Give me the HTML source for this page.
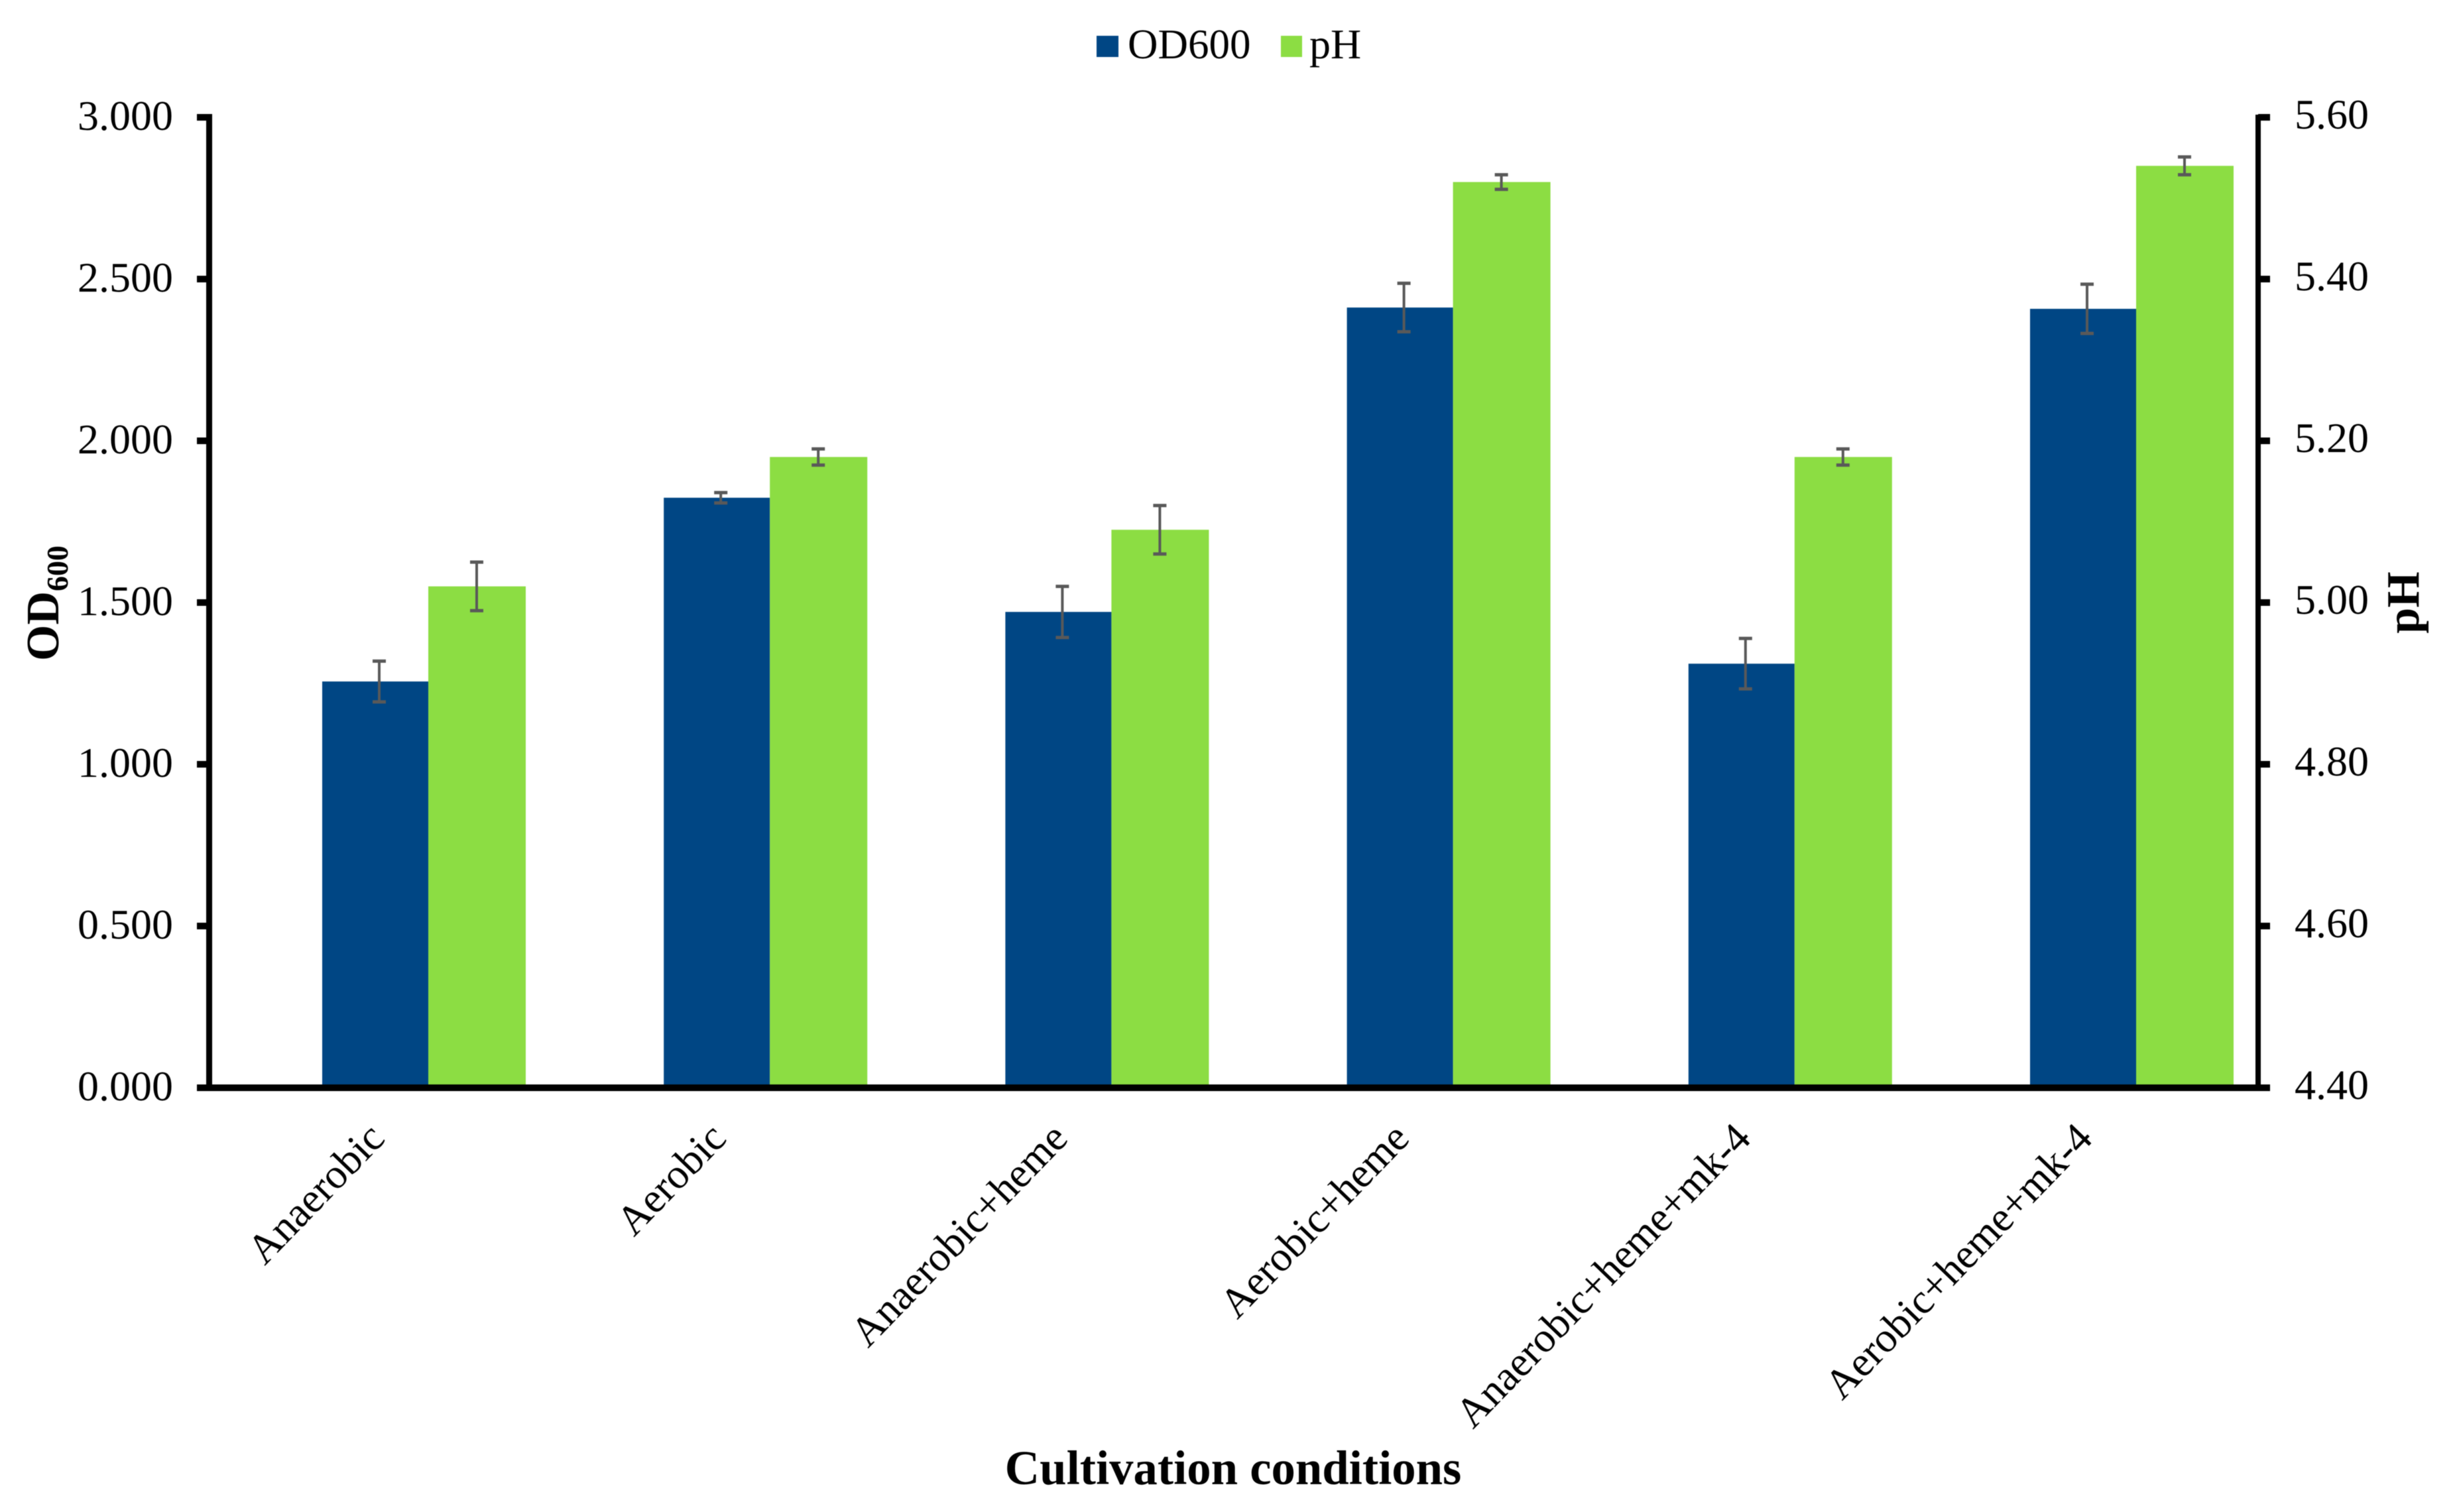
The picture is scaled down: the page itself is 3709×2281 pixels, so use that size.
<!DOCTYPE html>
<html lang="en">
<head>
<meta charset="utf-8">
<title>OD600 and pH across cultivation conditions</title>
<style>
  html, body { margin: 0; padding: 0; background: #ffffff; }
  body { width: 3709px; height: 2281px; overflow: hidden; }
  #chart { display: block; filter: blur(0.6px); }
  text { font-family: "Liberation Serif", "Times New Roman", serif; fill: #000000; }
</style>
</head>
<body>
<svg id="chart" xmlns="http://www.w3.org/2000/svg" width="3709" height="2281" viewBox="0 0 3709 2281">
  <rect x="0" y="0" width="3709" height="2281" fill="#ffffff"/>
  <g id="bars"></g>
  <g id="errors"></g>
  <g id="axes"></g>

  <g>
    <g>
      <rect x="1654" y="54" width="33" height="32" fill="#004684"/>
      <text x="1701" y="88" font-size="63">OD600</text>
    </g>
    <g>
      <rect x="1932" y="54" width="32" height="32" fill="#8cdd43"/>
      <text x="1975" y="88" font-size="64">pH</text>
    </g>
  </g>

  <text x="1860" y="2239" font-size="72.7" font-weight="bold" text-anchor="middle">Cultivation conditions</text>
  <text transform="translate(88,997) rotate(-90)" font-size="70" font-weight="bold">OD<tspan font-size="46" dy="14">600</tspan></text>
  <text transform="translate(3648,909) rotate(-90)" font-size="70" font-weight="bold" text-anchor="middle">pH</text>
</svg>

<script>
const categories = ["Anaerobic", "Aerobic", "Anaerobic+heme", "Aerobic+heme", "Anaerobic+heme+mk-4", "Aerobic+heme+mk-4"];
const od600Values = [1.256, 1.824, 1.471, 2.412, 1.311, 2.408];
const od600Errors = [0.063, 0.016, 0.079, 0.075, 0.078, 0.076];
const phValues = [5.02, 5.18, 5.09, 5.52, 5.18, 5.54];
const phErrors = [0.03, 0.01, 0.03, 0.009, 0.01, 0.011];
const leftTicks = ["0.000", "0.500", "1.000", "1.500", "2.000", "2.500", "3.000"];
const rightTicks = ["4.40", "4.60", "4.80", "5.00", "5.20", "5.40", "5.60"];

const NS = "http://www.w3.org/2000/svg";
const plotBottom = 1641;
const plotTop = 177;
const leftAxisX = 315.5;
const rightAxisX = 3406;
const leftMin = 0;
const leftMax = 3;
const rightMin = 4.4;
const rightMax = 5.6;
const firstBarX = 486;
const groupStep = 515.2;
const blueWidth = 160;
const greenWidth = 147;
const blueErrorOffset = 86;
const greenErrorOffset = 233;
const capWidth = 20;
const errorColor = "#595959";

function yLeft(v) {
  return plotBottom - (v - leftMin) / (leftMax - leftMin) * (plotBottom - plotTop);
}
function yRight(v) {
  return plotBottom - (v - rightMin) / (rightMax - rightMin) * (plotBottom - plotTop);
}
function groupX(i) {
  return firstBarX + i * groupStep;
}

function line(parent, x1, y1, x2, y2, stroke, width) {
  const el = document.createElementNS(NS, "line");
  el.setAttribute("x1", x1);
  el.setAttribute("y1", y1);
  el.setAttribute("x2", x2);
  el.setAttribute("y2", y2);
  el.setAttribute("stroke", stroke);
  el.setAttribute("stroke-width", width);
  parent.appendChild(el);
  return el;
}

const barsGroup = document.getElementById("bars");
const errorsGroup = document.getElementById("errors");
const axesGroup = document.getElementById("axes");

function drawError(x, yTop, yBottom, slug) {
  const g = document.createElementNS(NS, "g");
  
  
  line(g, x, yTop, x, yBottom, errorColor, 4);
  line(g, x - capWidth / 2, yTop, x + capWidth / 2, yTop, errorColor, 5);
  line(g, x - capWidth / 2, yBottom, x + capWidth / 2, yBottom, errorColor, 5);
  errorsGroup.appendChild(g);
}

categories.forEach(function (name, i) {
  const slug = name.toLowerCase().replace(/\+/g, "-");
  const x0 = groupX(i);

  const blue = document.createElementNS(NS, "rect");
  
  
  blue.setAttribute("x", x0);
  blue.setAttribute("y", yLeft(od600Values[i]));
  blue.setAttribute("width", blueWidth);
  blue.setAttribute("height", plotBottom - yLeft(od600Values[i]));
  blue.setAttribute("fill", "#004684");
  barsGroup.appendChild(blue);

  const green = document.createElementNS(NS, "rect");
  
  
  green.setAttribute("x", x0 + blueWidth);
  green.setAttribute("y", yRight(phValues[i]));
  green.setAttribute("width", greenWidth);
  green.setAttribute("height", plotBottom - yRight(phValues[i]));
  green.setAttribute("fill", "#8cdd43");
  barsGroup.appendChild(green);

  drawError(x0 + blueErrorOffset, yLeft(od600Values[i] + od600Errors[i]), yLeft(od600Values[i] - od600Errors[i]), "od600-" + slug);
  drawError(x0 + greenErrorOffset, yRight(phValues[i] + phErrors[i]), yRight(phValues[i] - phErrors[i]), "ph-" + slug);

  const label = document.createElementNS(NS, "text");
  
  
  label.setAttribute("text-anchor", "end");
  label.setAttribute("font-size", "63.5");
  label.setAttribute("transform", "translate(" + (583 + i * groupStep) + ",1720) rotate(-46)");
  label.textContent = name;
  axesGroup.appendChild(label);
});

const leftAxis = line(axesGroup, leftAxisX, plotTop - 5, leftAxisX, plotBottom, "#000000", 9);



const rightAxis = line(axesGroup, rightAxisX, plotTop - 4, rightAxisX, plotBottom, "#000000", 8);



const xAxis = line(axesGroup, 297, plotBottom, 3424, plotBottom, "#000000", 10);



leftTicks.forEach(function (t) {
  const v = parseFloat(t);
  const tick = line(axesGroup, 297, yLeft(v), leftAxisX, yLeft(v), "#000000", 10);
  
  

  const label = document.createElementNS(NS, "text");
  
  
  label.setAttribute("x", 261);
  label.setAttribute("y", yLeft(v) + 19);
  label.setAttribute("text-anchor", "end");
  label.setAttribute("font-size", "64");
  label.textContent = t;
  axesGroup.appendChild(label);
});

rightTicks.forEach(function (t) {
  const v = parseFloat(t);
  const tick = line(axesGroup, rightAxisX, yRight(v), 3424, yRight(v), "#000000", 10);
  
  

  const label = document.createElementNS(NS, "text");
  
  
  label.setAttribute("x", 3461);
  label.setAttribute("y", yRight(v) + 17);
  label.setAttribute("font-size", "64");
  label.textContent = t;
  axesGroup.appendChild(label);
});
</script>
</body>
</html>
